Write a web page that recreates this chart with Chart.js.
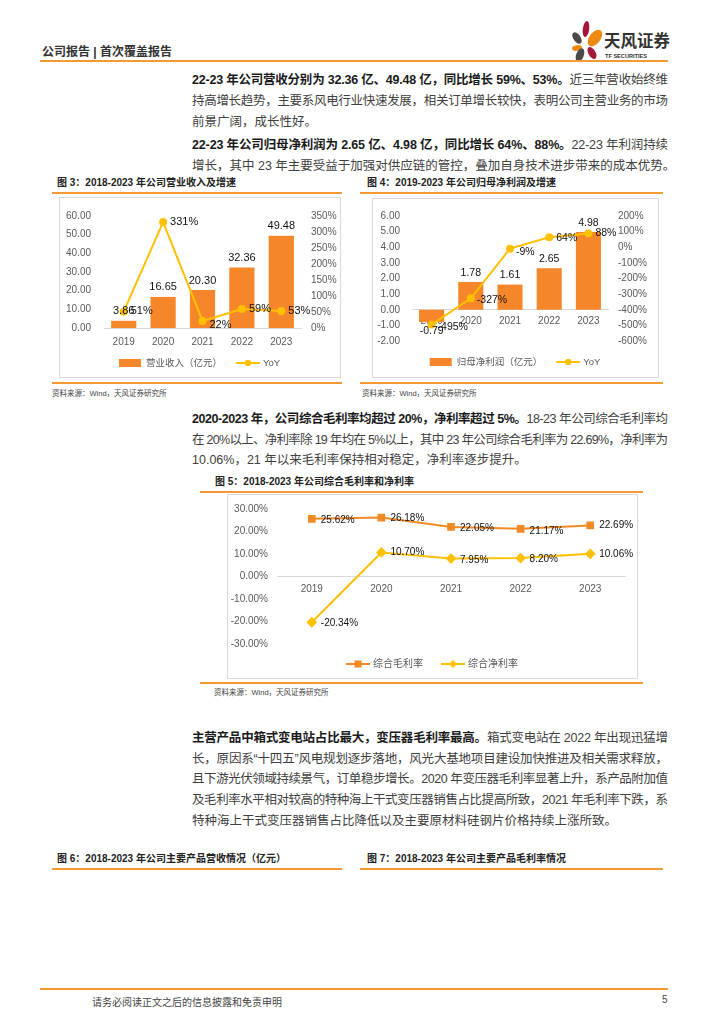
<!DOCTYPE html>
<html><head><meta charset="utf-8">
<script src="https://cdn.jsdelivr.net/npm/chart.js@4"></script>
<style>
body{margin:0;background:#fff;}
#page{position:relative;width:724px;height:1024px;overflow:hidden;font-family:'Liberation Sans','Noto Sans CJK SC',sans-serif;color:#3a3a3a;}
.line{position:absolute;left:192px;white-space:nowrap;font-size:12.5px;line-height:16px;color:#404040;}
.line b{color:#1a1a1a;font-weight:bold;}
.hr{position:absolute;height:2px;background:#F39A36;}
.ftitle{position:absolute;font-size:10px;font-weight:bold;color:#222;white-space:nowrap;line-height:12px;}
.box{position:absolute;border:1px solid #D9D9D9;box-sizing:border-box;}
.src{position:absolute;font-size:7.5px;color:#444;white-space:nowrap;line-height:10px;}
canvas{position:absolute;}
</style></head>
<body><div id="page">
<div style="position:absolute;left:42px;top:42px;font-size:12px;font-weight:bold;color:#333;white-space:nowrap;">公司报告 | 首次覆盖报告</div>
<svg style="position:absolute;left:560px;top:14px" width="120" height="50" viewBox="560 14 120 50">
  <ellipse cx="577" cy="38" rx="3.6" ry="6.5" fill="#4a4a4a" transform="rotate(-35 577 38)"/>
  <ellipse cx="586" cy="29" rx="3.2" ry="8" fill="#A5173A" transform="rotate(8 586 29)"/>
  <ellipse cx="595" cy="38" rx="5.5" ry="9.5" fill="#EE8A12" transform="rotate(38 595 38)"/>
  <ellipse cx="577" cy="48" rx="5" ry="2.8" fill="#EE8A12" transform="rotate(-8 577 48)"/>
  <ellipse cx="580" cy="55" rx="3.8" ry="7" fill="#4a4a4a" transform="rotate(22 580 55)"/>
  <ellipse cx="592" cy="53" rx="3.6" ry="6.5" fill="#A5173A" transform="rotate(-30 592 53)"/>
  <text x="604" y="47" font-size="16.5" font-weight="bold" fill="#333" font-family="Noto Sans CJK SC">天风证券</text>
  <text x="605" y="58" font-size="5.6" font-weight="bold" fill="#333" font-family="Liberation Sans">TF SECURITIES</text>
</svg>
<div class="hr" style="left:40px;top:60px;width:628px;"></div>

<div class="line j" style="top:72px"><b>22-23 年公司营收分别为 32.36 亿、49.48 亿，同比增长 59%、53%。</b>近三年营收始终维</div>
<div class="line j" style="top:93px">持高增长趋势，主要系风电行业快速发展，相关订单增长较快，表明公司主营业务的市场</div>
<div class="line" style="top:114px">前景广阔，成长性好。</div>
<div class="line j" style="top:137px"><b>22-23 年公司归母净利润为 2.65 亿、4.98 亿，同比增长 64%、88%。</b>22-23 年利润持续</div>
<div class="line" style="top:158px">增长，其中 23 年主要受益于加强对供应链的管控，叠加自身技术进步带来的成本优势。</div>

<div class="ftitle" style="left:57px;top:177px">图 3：2018-2023 年公司营业收入及增速</div>
<div class="hr" style="left:52px;top:192px;width:290px;"></div>
<div class="box" style="left:59px;top:197px;width:282px;height:181px;"></div>
<canvas id="c3" width="281" height="180" style="left:59px;top:197px;width:281px;height:180px"></canvas>
<div class="hr" style="left:52px;top:382px;width:290px;"></div>
<div class="src" style="left:52px;top:389px">资料来源：Wind，天风证券研究所</div>

<div class="ftitle" style="left:367px;top:177px">图 4：2019-2023 年公司归母净利润及增速</div>
<div class="hr" style="left:360px;top:192px;width:303px;"></div>
<div class="box" style="left:372px;top:198px;width:287px;height:180px;"></div>
<canvas id="c4" width="286" height="179" style="left:372px;top:198px;width:286px;height:179px"></canvas>
<div class="hr" style="left:360px;top:382px;width:303px;"></div>
<div class="src" style="left:362px;top:389px">资料来源：Wind，天风证券研究所</div>

<div class="line j" style="top:411px"><b>2020-2023 年，公司综合毛利率均超过 20%，净利率超过 5%。</b>18-23 年公司综合毛利率均</div>
<div class="line j" style="top:432px">在 20%以上、净利率除 19 年均在 5%以上，其中 23 年公司综合毛利率为 22.69%，净利率为</div>
<div class="line" style="top:452px">10.06%，21 年以来毛利率保持相对稳定，净利率逐步提升。</div>

<div class="ftitle" style="left:215px;top:476px">图 5：2018-2023 年公司综合毛利率和净利率</div>
<div class="hr" style="left:200px;top:491px;width:443px;"></div>
<div class="box" style="left:227px;top:494px;width:411px;height:185px;"></div>
<canvas id="c5" width="410" height="184" style="left:227px;top:494px;width:410px;height:184px"></canvas>
<div class="hr" style="left:200px;top:682px;width:443px;"></div>
<div class="src" style="left:214px;top:688px">资料来源：Wind，天风证券研究所</div>

<div class="line j" style="top:730px"><b>主营产品中箱式变电站占比最大，变压器毛利率最高。</b>箱式变电站在 2022 年出现迅猛增</div>
<div class="line j" style="top:751px">长，原因系“十四五”风电规划逐步落地，风光大基地项目建设加快推进及相关需求释放，</div>
<div class="line j" style="top:771px">且下游光伏领域持续景气，订单稳步增长。2020 年变压器毛利率显著上升，系产品附加值</div>
<div class="line j" style="top:792px">及毛利率水平相对较高的特种海上干式变压器销售占比提高所致，2021 年毛利率下跌，系</div>
<div class="line" style="top:813px">特种海上干式变压器销售占比降低以及主要原材料硅钢片价格持续上涨所致。</div>

<div class="ftitle" style="left:57px;top:853px">图 6：2018-2023 年公司主要产品营收情况（亿元）</div>
<div class="hr" style="left:52px;top:868px;width:290px;"></div>
<div class="ftitle" style="left:367px;top:853px">图 7：2018-2023 年公司主要产品毛利率情况</div>
<div class="hr" style="left:360px;top:868px;width:303px;"></div>

<div class="hr" style="left:40px;top:988px;width:628px;"></div>
<div style="position:absolute;left:92px;top:994px;font-size:10px;color:#444;white-space:nowrap">请务必阅读正文之后的信息披露和免责申明</div>
<div style="position:absolute;left:662px;top:994px;font-size:10px;color:#444;">5</div>
</div>
<script>
// ---- data ----
const years = ['2019','2020','2021','2022','2023'];
const revenue = [3.86, 16.65, 20.30, 32.36, 49.48];
const revenueYoY = [51, 331, 22, 59, 53];
const profit = [-0.79, 1.78, 1.61, 2.65, 4.98];
const profitYoY = [-495, -327, -9, 64, 88];
const grossMargin = [25.62, 26.18, 22.05, 21.17, 22.69];
const netMargin = [-20.34, 10.70, 7.95, 8.20, 10.06];
const revTicks = {min:0, max:60, step:10};
const revYoYTicks = {min:0, max:350, step:50};
const profTicks = {min:-2, max:6, step:1};
const profYoYTicks = {min:-600, max:200, step:100};
const marginTicks = {min:-30, max:30, step:10};

// ---- justify lines ----
function justify(){
  document.querySelectorAll('.line.j').forEach(el=>{
    el.style.letterSpacing='0px';
    const w=el.getBoundingClientRect().width;
    const n=[...el.textContent].length;
    el.style.letterSpacing=((476-w)/(n-1))+'px';
  });
}
justify();
if(document.fonts&&document.fonts.ready) document.fonts.ready.then(justify);

const ORANGE='#F5862A', GOLD='#FFC000', TICK='#595959';
const FF="'Liberation Sans','Noto Sans CJK SC',sans-serif";

const labelPlugin={
  id:'vlabels',
  afterDatasetsDraw(chart){
    const ctx=chart.ctx;
    chart.data.datasets.forEach((ds,i)=>{
      const cfg=ds.labelCfg; if(!cfg) return;
      chart.getDatasetMeta(i).data.forEach((el,j)=>{
        const v=ds.data[j];
        ctx.save();
        ctx.font=cfg.font; ctx.fillStyle=cfg.color||'#111';
        let x=el.x,y=el.y;
        if(cfg.mode==='bar'){
          ctx.textAlign='center';
          if(v>=0){ctx.textBaseline='bottom';y-=4;}else{ctx.textBaseline='top';y+=4;}
        }else{
          ctx.textAlign='left';ctx.textBaseline='middle';
          const off=(cfg.offsets&&cfg.offsets[j])||[7,0];
          x+=off[0];y+=off[1];
        }
        ctx.fillText(cfg.fmt(v),x,y);
        ctx.restore();
      });
    });
  }
};
const legendPlugin={
  id:'customLegend',
  afterDraw(chart,args,opts){
    if(!opts||!opts.items) return;
    const ctx=chart.ctx;
    ctx.save();
    ctx.font=opts.font; ctx.textBaseline='middle';
    const sw=opts.swatch||24, gap=3, igap=opts.itemGap||18;
    let total=0;
    const widths=opts.items.map(it=>ctx.measureText(it.text).width);
    widths.forEach((w,i)=>{total+=sw+gap+w+(i?igap:0);});
    let x=(opts.cx!=null?opts.cx:chart.width/2)-total/2;
    const y=opts.y;
    opts.items.forEach((it,i)=>{
      if(i) x+=igap;
      if(it.kind==='bar'){
        ctx.fillStyle=it.color; ctx.fillRect(x,y-4,sw-2,8);
      }else{
        ctx.strokeStyle=it.color; ctx.lineWidth=2;
        ctx.beginPath();ctx.moveTo(x,y);ctx.lineTo(x+sw,y);ctx.stroke();
        ctx.fillStyle=it.color;
        const cx=x+sw/2;
        if(it.marker==='circle'){ctx.beginPath();ctx.arc(cx,y,3.2,0,Math.PI*2);ctx.fill();}
        else if(it.marker==='rect'){ctx.fillRect(cx-3.5,y-3.5,7,7);}
        else if(it.marker==='rectRot'){ctx.beginPath();ctx.moveTo(cx,y-4);ctx.lineTo(cx+4,y);ctx.lineTo(cx,y+4);ctx.lineTo(cx-4,y);ctx.closePath();ctx.fill();}
      }
      x+=sw+gap;
      ctx.fillStyle=opts.color||TICK;
      ctx.textAlign='left';
      ctx.fillText(it.text,x,y);
      x+=widths[i];
    });
    ctx.restore();
  }
};
Chart.register(labelPlugin,legendPlugin);
Chart.defaults.font.family=FF;
Chart.defaults.animation=false;

function yAxis(pos,t,fmt,width,pad){
  return {position:pos,min:t.min,max:t.max,
    ticks:{stepSize:t.step,callback:fmt,color:TICK,font:{size:10},padding:pad},
    grid:{display:false,drawTicks:false,tickLength:0},border:{display:false},
    afterFit(s){s.width=width;}};
}
function xAxis(extra){
  return Object.assign({offset:true,grid:{display:false,drawTicks:false,tickLength:0},
    border:{display:true,color:'#D9D9D9'},ticks:{color:TICK,font:{size:10},padding:6}},extra);
}

// ---- Chart 3 ----
new Chart(document.getElementById('c3'),{
  data:{labels:years,datasets:[
    {type:'line',data:revenueYoY,yAxisID:'y1',order:0,borderColor:GOLD,backgroundColor:GOLD,borderWidth:2,
     pointRadius:3,pointHoverRadius:3,tension:0,
     labelCfg:{mode:'line',font:'11px '+FF,fmt:v=>v+'%',offsets:[[7,-1],[7,0],[7,4],[7,0],[7,0]]}},
    {type:'bar',data:revenue,yAxisID:'y',order:1,backgroundColor:ORANGE,barPercentage:0.64,categoryPercentage:1,
     labelCfg:{mode:'bar',font:'11px '+FF,fmt:v=>v.toFixed(2)}}
  ]},
  options:{responsive:false,layout:{padding:{top:11,bottom:29,left:0,right:0}},
    plugins:{legend:{display:false},tooltip:{enabled:false},
      customLegend:{y:166,font:'9.5px '+FF,itemGap:14,items:[
        {kind:'bar',color:ORANGE,text:'营业收入（亿元）'},
        {kind:'line',color:GOLD,marker:'circle',text:'YoY'}]}},
    scales:{
      x:xAxis({ticks:{color:TICK,font:{size:10},padding:8},afterFit(s){s.height=20;}}),
      y:yAxis('left',revTicks,v=>v.toFixed(2),45,13),
      y1:yAxis('right',revYoYTicks,v=>v+'%',39,10)
    }}
});

// ---- Chart 4 ----
new Chart(document.getElementById('c4'),{
  data:{labels:years,datasets:[
    {type:'line',data:profitYoY,yAxisID:'y1',order:0,borderColor:GOLD,backgroundColor:GOLD,borderWidth:2,
     pointRadius:3,pointHoverRadius:3,tension:0,
     labelCfg:{mode:'line',font:'10.5px '+FF,fmt:v=>v+'%',offsets:[[6,3],[6,2],[6,3],[7,1],[7,0]]}},
    {type:'bar',data:profit,yAxisID:'y',order:1,backgroundColor:ORANGE,barPercentage:0.64,categoryPercentage:1,
     labelCfg:{mode:'bar',font:'10.5px '+FF,fmt:v=>v.toFixed(2)}}
  ]},
  options:{responsive:false,layout:{padding:{top:12,bottom:36,left:0,right:0}},
    plugins:{legend:{display:false},tooltip:{enabled:false},
      customLegend:{y:164,font:'9.5px '+FF,itemGap:14,items:[
        {kind:'bar',color:ORANGE,text:'归母净利润（亿元）'},
        {kind:'line',color:GOLD,marker:'circle',text:'YoY'}]}},
    scales:{
      x:xAxis({position:{y:0},z:1,ticks:{color:TICK,font:{size:10},padding:5}}),
      y:yAxis('left',profTicks,v=>v.toFixed(2),40,12),
      y1:yAxis('right',profYoYTicks,v=>v+'%',50,10)
    }}
});

// ---- Chart 5 ----
new Chart(document.getElementById('c5'),{
  type:'line',
  data:{labels:years,datasets:[
    {data:grossMargin,borderColor:'#F08A24',backgroundColor:'#F08A24',borderWidth:2,pointStyle:'rect',pointRadius:4,tension:0,
     labelCfg:{mode:'line',font:'10px '+FF,fmt:v=>v.toFixed(2)+'%',offsets:[[9,1],[9,1],[9,1],[9,2],[9,0]]}},
    {data:netMargin,borderColor:GOLD,backgroundColor:GOLD,borderWidth:2,pointStyle:'rectRot',pointRadius:4,tension:0,
     labelCfg:{mode:'line',font:'10px '+FF,fmt:v=>v.toFixed(2)+'%',offsets:[[9,1],[9,0],[9,2],[9,1],[9,0]]}}
  ]},
  options:{responsive:false,layout:{padding:{top:11,bottom:34,left:0,right:12}},
    plugins:{legend:{display:false},tooltip:{enabled:false},
      customLegend:{y:170,font:'10px '+FF,itemGap:18,items:[
        {kind:'line',color:'#F08A24',marker:'rect',text:'综合毛利率'},
        {kind:'line',color:GOLD,marker:'rectRot',text:'综合净利率'}]}},
    scales:{
      x:xAxis({position:{y:0},ticks:{color:TICK,font:{size:10},padding:7}}),
      y:yAxis('left',marginTicks,v=>v.toFixed(2)+'%',50,9)
    }}
});
</script>
</body></html>
